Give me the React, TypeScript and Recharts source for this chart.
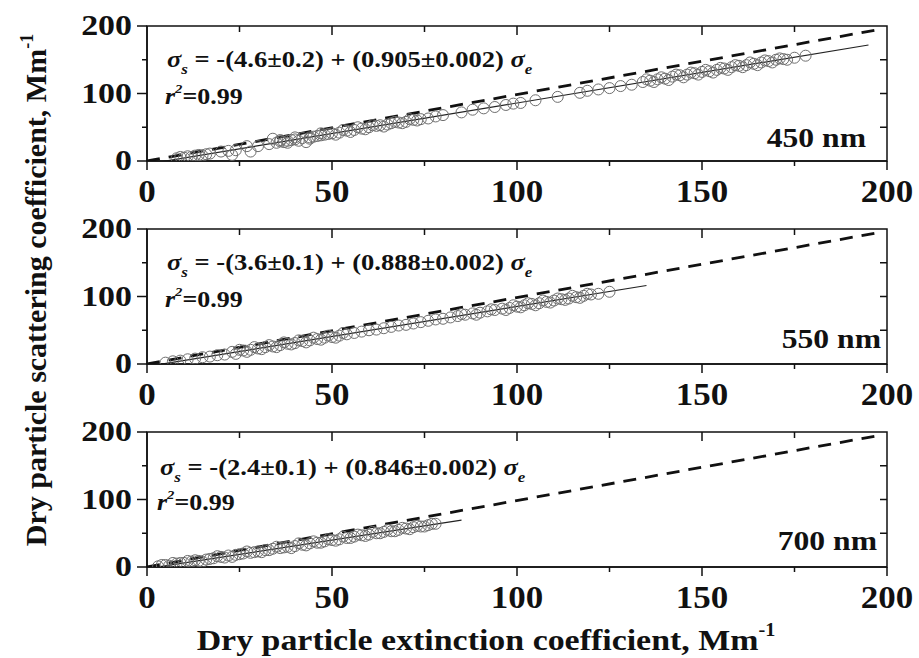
import { ComposedChart, XAxis, YAxis, Scatter, Line, ReferenceArea } from "recharts";

// extinction (x) and scattering (y) per wavelength, Mm^-1
const EXT_450 = [8, 9, 10, 11, 12, 13, 14, 15, 16, 17, 20, 22, 23, 24, 27, 28, 30, 33, 34, 35, 36, 37, 38, 39, 40, 41, 42, 43, 44, 45, 46, 47, 48, 49, 50, 52, 54, 56, 58, 60, 62, 63, 65, 66, 68, 70, 72, 74, 76, 78, 80, 85, 88, 91, 94, 97, 99, 101, 105, 111, 117, 119, 122, 125, 128, 131, 134, 136, 138, 140, 142, 144, 146, 148, 150, 152, 154, 156, 158, 160, 162, 164, 166, 168, 170, 172, 175, 178,
  36, 38, 40, 44, 47, 51, 53, 55, 57, 59, 61, 64, 67, 69, 71, 73, 135, 137, 139, 141, 143, 145, 147, 149, 151, 153, 155, 157, 159, 161, 163, 165, 167, 169, 171, 173];
const SCA_450 = [4, 6, 5, 7, 6, 8, 9, 8, 10, 11, 14, 15, 9, 16, 22, 14, 22, 25, 33, 27, 29, 28, 30, 31, 32, 30, 34, 28, 35, 36, 37, 38, 39, 40, 41, 42, 45, 46, 48, 50, 52, 53, 54, 56, 57, 58, 61, 62, 63, 66, 68, 72, 76, 78, 80, 83, 85, 86, 90, 95, 101, 104, 106, 108, 111, 113, 117, 119, 121, 122, 125, 127, 128, 130, 132, 133, 135, 137, 139, 141, 142, 144, 146, 148, 150, 151, 153, 156,
  31, 27, 35, 33, 41, 39, 46, 43, 50, 47, 53, 51, 58, 56, 62, 60, 121, 117, 124, 120, 128, 124, 131, 128, 135, 131, 138, 135, 142, 139, 146, 142, 149, 146, 152, 150];

const EXT_550 = [5, 7, 9, 11, 13, 15, 17, 19, 21, 23, 24, 26, 28, 30, 32, 34, 36, 38, 40, 42, 44, 46, 48, 50, 52, 54, 56, 58, 60, 62, 64, 66, 68, 70, 72, 74, 76, 78, 80, 82, 84, 86, 88, 90, 92, 94, 96, 98, 100, 102, 104, 106, 108, 110, 112, 114, 116, 118, 120, 122, 125,
  25, 27, 29, 31, 33, 35, 37, 39, 41, 43, 45, 47, 49, 51, 53, 85, 89, 93, 97, 99, 101, 103, 105, 107, 109, 111, 113, 115, 117, 119];
const SCA_550 = [2, 4, 5, 7, 8, 10, 11, 13, 14, 18, 15, 20, 21, 23, 25, 26, 28, 30, 31, 34, 35, 37, 39, 40, 42, 44, 46, 48, 50, 51, 53, 55, 57, 58, 60, 62, 64, 66, 67, 69, 71, 73, 75, 76, 78, 80, 82, 83, 85, 87, 89, 90, 92, 94, 96, 97, 99, 101, 103, 104, 107,
  21, 18, 25, 22, 28, 25, 32, 29, 35, 32, 39, 36, 42, 39, 46, 74, 73, 81, 80, 87, 84, 90, 87, 94, 91, 97, 95, 101, 98, 104];

const EXT_700 = [3, 5, 6, 8, 9, 10, 12, 13, 14, 16, 17, 18, 20, 21, 22, 24, 25, 26, 28, 29, 30, 32, 33, 34, 36, 37, 38, 40, 42, 44, 46, 48, 50, 52, 54, 56, 58, 60, 62, 64, 66, 68, 70, 72, 74, 76, 78,
  4, 7, 11, 15, 19, 23, 27, 31, 35, 39, 41, 43, 45, 47, 49, 51, 53, 55, 57, 59, 61, 63, 65, 67, 69, 71, 73, 75, 77];
const SCA_700 = [1, 3, 2, 5, 6, 6, 8, 10, 9, 11, 12, 13, 15, 14, 17, 18, 19, 20, 21, 22, 23, 25, 25, 27, 28, 29, 30, 31, 33, 35, 36, 38, 40, 41, 43, 45, 47, 48, 50, 52, 53, 55, 57, 59, 60, 62, 64,
  3, 6, 9, 8, 16, 15, 23, 22, 30, 28, 35, 32, 38, 36, 41, 39, 45, 43, 48, 46, 52, 50, 55, 53, 58, 56, 61, 60, 64];

// regression line end points
const FIT_450_X = [-4, 195];
const FIT_450_Y = [-8.2, 171.9];
const FIT_550_X = [-4, 135];
const FIT_550_Y = [-7.2, 116.3];
const FIT_700_X = [-4, 85];
const FIT_700_Y = [-5.8, 69.5];

// dashed reference line
const REF_X = [0, 198];
const REF_Y = [0, 195];

const X_TICKS = [0, 25, 50, 75, 100, 125, 150, 175, 200];
const Y_TICKS = [0, 50, 100, 150, 200];

const EQUATIONS = ["-(4.6\u00b10.2) + (0.905\u00b10.002)", "-(3.6\u00b10.1) + (0.888\u00b10.002)", "-(2.4\u00b10.1) + (0.846\u00b10.002)"];
const WAVELENGTHS = ["450 nm", "550 nm", "700 nm"];

const toPts = (xs: number[], ys: number[]) => xs.map((x, i) => ({ x, y: ys[i] }));

const PANELS = [
  { pts: toPts(EXT_450, SCA_450), fit: toPts(FIT_450_X, FIT_450_Y), eqX: 167, eqDy: 41, r2X: 165, labX: 866, labDy: 121 },
  { pts: toPts(EXT_550, SCA_550), fit: toPts(FIT_550_X, FIT_550_Y), eqX: 167, eqDy: 41, r2X: 165, labX: 881, labDy: 119 },
  { pts: toPts(EXT_700, SCA_700), fit: toPts(FIT_700_X, FIT_700_Y), eqX: 160, eqDy: 43, r2X: 157, labX: 877, labDy: 118 },
];
const REF_LINE = toPts(REF_X, REF_Y);

const W = 919;
const PANEL_H = 203;
const CHART_H = 222;
const PLOT_W = 740;
const PLOT_H = 135;
const FONT = "Liberation Serif";
const INK = "#111";
const SX = "scale(1.13,1)";

function BottomTick({ x, y, payload }: any) {
  const v = payload.value;
  const major = v % 50 === 0;
  return (
    <g>
      <line x1={x} x2={x} y1={y} y2={y + (major ? 9 : 5)} stroke={INK} strokeWidth={1.5} />
      {v > 0 && v < 200 && (
        <line x1={x} x2={x} y1={y - PLOT_H} y2={y - PLOT_H + (major ? 9 : 6)} stroke={INK} strokeWidth={1.5} />
      )}
      {major && (
        <text transform={`translate(${x},${y + 41}) ${SX}`} textAnchor="middle" fontFamily={FONT} fontWeight="bold" fontSize={31} fill={INK}>
          {v}
        </text>
      )}
    </g>
  );
}

function LeftTick({ x, y, payload }: any) {
  const v = payload.value;
  const major = v % 100 === 0;
  return (
    <g>
      <line x1={x - (major ? 10 : 5)} x2={x} y1={y} y2={y} stroke={INK} strokeWidth={1.5} />
      {v > 0 && v < 200 && <line x1={x + PLOT_W - 7} x2={x + PLOT_W} y1={y} y2={y} stroke={INK} strokeWidth={1.5} />}
      {major && (
        <text transform={`translate(${x - 15},${y + 9}) ${SX}`} textAnchor="end" fontFamily={FONT} fontWeight="bold" fontSize={30} fill={INK}>
          {v}
        </text>
      )}
    </g>
  );
}

const Ring = (p: any) => <circle cx={p.cx} cy={p.cy} r={5.5} fill="none" stroke="#6e6e6e" strokeWidth={1} />;

function Panel({ pts, fit }: { pts: { x: number; y: number }[]; fit: { x: number; y: number }[] }) {
  return (
    <ComposedChart width={W} height={CHART_H} margin={{ top: 26, right: 32, left: 87, bottom: CHART_H - PANEL_H }}>
      <XAxis
        type="number"
        dataKey="x"
        domain={[0, 200]}
        allowDataOverflow
        ticks={X_TICKS}
        interval={0}
        tickSize={0}
        tickMargin={0}
        tickLine={false}
        height={42}
        axisLine={{ stroke: INK, strokeWidth: 1.5 }}
        tick={(p: any) => <BottomTick {...p} />}
      />
      <YAxis
        type="number"
        dataKey="y"
        domain={[0, 200]}
        allowDataOverflow
        ticks={Y_TICKS}
        interval={0}
        tickSize={0}
        tickMargin={0}
        tickLine={false}
        width={60}
        axisLine={{ stroke: INK, strokeWidth: 1.5 }}
        tick={(p: any) => <LeftTick {...p} />}
      />
      <ReferenceArea x1={0} x2={200} y1={0} y2={200} fill="none" stroke={INK} strokeWidth={1.5} />
      <Scatter data={pts} shape={Ring} isAnimationActive={false} />
      <Line data={fit} dataKey="y" type="linear" stroke="#222" strokeWidth={1.2} dot={false} isAnimationActive={false} />
      <Line data={REF_LINE} dataKey="y" type="linear" stroke="#111" strokeWidth={2.8} strokeDasharray="13 9" dot={false} isAnimationActive={false} />
    </ComposedChart>
  );
}

export default function App() {
  const txt = { fontFamily: FONT, fontWeight: "bold" as const, fill: INK };
  return (
    <div style={{ position: "absolute", left: 0, top: 0, width: W, height: 658, background: "#fff" }}>
      {PANELS.map((p, i) => (
        <div key={i} style={{ position: "absolute", left: 0, top: i * PANEL_H }}>
          <Panel pts={p.pts} fit={p.fit} />
        </div>
      ))}
      <svg width={W} height={658} style={{ position: "absolute", left: 0, top: 0, pointerEvents: "none" }}>
        <text transform="translate(46,290) rotate(-90)" textAnchor="middle" fontSize={30} {...txt}>
          Dry particle scattering coefficient, Mm<tspan dy={-13} fontSize={18}>-1</tspan>
        </text>
        <text transform={`translate(486,650) ${SX}`} textAnchor="middle" fontSize={30} {...txt}>
          Dry particle extinction coefficient, Mm<tspan dy={-14} fontSize={18}>-1</tspan>
        </text>
        {PANELS.map((p, i) => {
          const top = 26 + i * PANEL_H;
          return (
            <g key={i}>
              <text transform={`translate(${p.eqX},${top + p.eqDy}) ${SX}`} fontSize={23.5} {...txt}>
                <tspan fontStyle="italic">σ</tspan>
                <tspan fontStyle="italic" fontSize={15} dy={7}>s</tspan>
                <tspan dy={-7}> = {EQUATIONS[i]} </tspan>
                <tspan fontStyle="italic">σ</tspan>
                <tspan fontStyle="italic" fontSize={15} dy={7}>e</tspan>
              </text>
              <text transform={`translate(${p.r2X},${top + 78}) ${SX}`} fontSize={23} {...txt}>
                <tspan fontStyle="italic">r</tspan>
                <tspan fontStyle="italic" fontSize={13} dy={-11}>2</tspan>
                <tspan dy={11}>=0.99</tspan>
              </text>
              <text transform={`translate(${p.labX},${top + p.labDy}) ${SX}`} textAnchor="end" fontSize={28} {...txt}>
                {WAVELENGTHS[i]}
              </text>
            </g>
          );
        })}
      </svg>
    </div>
  );
}
